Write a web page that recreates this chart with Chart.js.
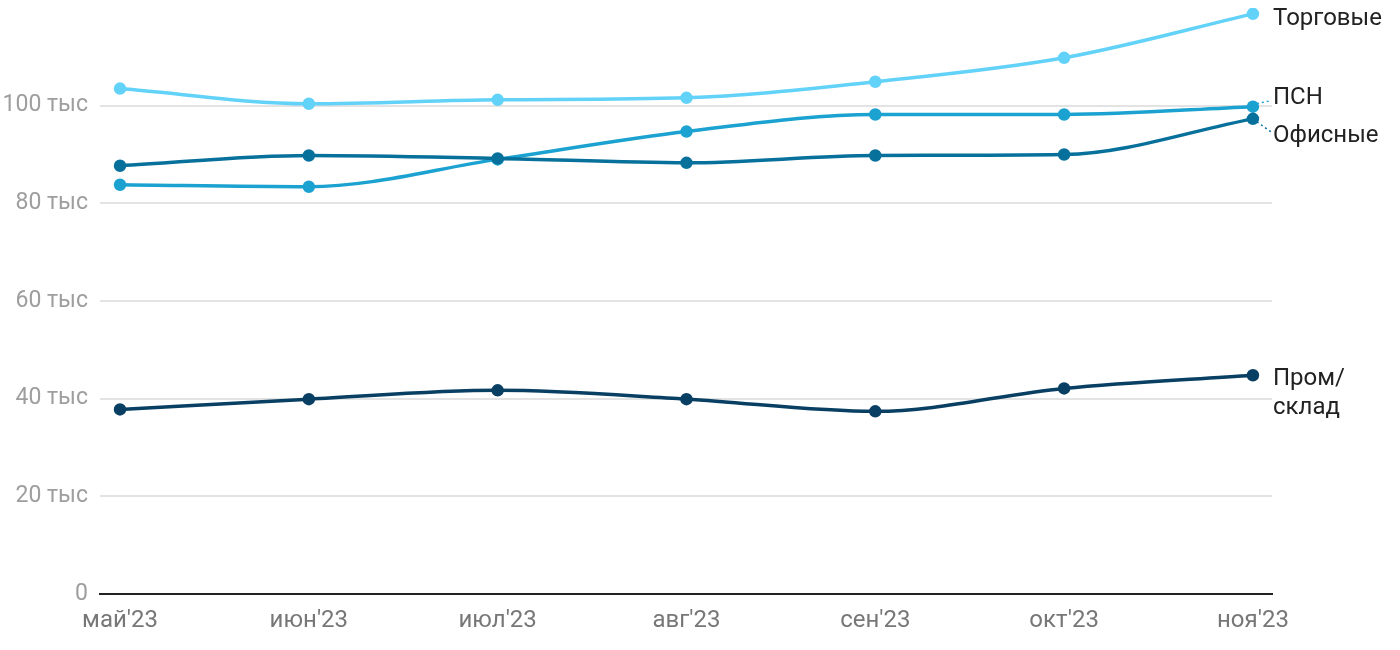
<!DOCTYPE html>
<html>
<head>
<meta charset="utf-8">
<script src="https://cdn.jsdelivr.net/npm/chart.js@4"></script>
<style>
  html, body { margin: 0; padding: 0; background: #fff; }
  #wrap { width: 1400px; height: 650px; }
</style>
</head>
<body>
<div id="wrap"><canvas id="graph1"></canvas></div>
<script>
const months = ["май'23", "июн'23", "июл'23", "авг'23", "сен'23", "окт'23", "ноя'23"];
const yTicks = [0, 20000, 40000, 60000, 80000, 100000];

const trade = [103500, 100400, 101200, 101600, 104900, 109800, 118800];
const psn = [83800, 83400, 89000, 94700, 98200, 98200, 99800];
const office = [87700, 89800, 89200, 88300, 89800, 90000, 97300];
const industrial = [37800, 39900, 41700, 39900, 37400, 42100, 44800];

const seriesNames = ['Торговые', 'ПСН', 'Офисные', ['Пром/', 'склад']];
const seriesColors = ['#62d2f8', '#1ba2d0', '#07709b', '#083f63'];
const seriesData = [trade, psn, office, industrial];
// label offset from last point, and whether a dotted leader is drawn
const labelShift = [5, -9, 17, 4];
const leader = [false, true, true, false];

function toPoints(arr) {
  return arr.map((v, i) => ({ x: i, y: v }));
}

const endLabels = {
  id: 'endLabels',
  afterDatasetsDraw(chart) {
    const ctx = chart.ctx;
    const area = chart.chartArea;
    ctx.save();
    ctx.font = '24px Roboto';
    ctx.fillStyle = '#222';
    ctx.textBaseline = 'middle';
    ctx.textAlign = 'left';
    chart.data.datasets.forEach((ds, i) => {
      const k = ds.seriesIndex;
      const meta = chart.getDatasetMeta(i);
      const pt = meta.data[meta.data.length - 1];
      const lx = area.right + 1;
      const ly = pt.y + labelShift[k];
      if (leader[k]) {
        ctx.strokeStyle = seriesColors[k];
        ctx.lineWidth = 1.5;
        ctx.setLineDash([2, 3]);
        ctx.beginPath();
        ctx.moveTo(pt.x + 4, pt.y + (labelShift[k] < 0 ? -3 : 3));
        ctx.lineTo(lx - 2, ly + (labelShift[k] < 0 ? 3 : -4));
        ctx.stroke();
        ctx.setLineDash([]);
      }
      const name = seriesNames[k];
      if (Array.isArray(name)) {
        name.forEach((line, n) => ctx.fillText(line, lx, ly + n * 29));
      } else {
        ctx.fillText(name, lx, ly);
      }
    });
    ctx.restore();
  }
};

document.addEventListener('DOMContentLoaded', function() {
  const ctx1 = document.getElementById('graph1').getContext('2d');
  const datasets = seriesData.map((arr, i) => ({
    label: Array.isArray(seriesNames[i]) ? seriesNames[i].join('') : seriesNames[i],
    seriesIndex: i,
    data: toPoints(arr),
    borderColor: seriesColors[i],
    backgroundColor: seriesColors[i],
    borderWidth: 3.5,
    pointRadius: 4.5,
    pointHoverRadius: 4.5,
    cubicInterpolationMode: 'monotone',
    fill: false
  })).reverse();

  new Chart(ctx1, {
    type: 'line',
    data: { datasets: datasets },
    options: {
      responsive: true,
      maintainAspectRatio: false,
      animation: false,
      layout: { padding: { top: 6, right: 128, left: 0, bottom: 0 } },
      plugins: {
        legend: { display: false },
        tooltip: { enabled: false }
      },
      scales: {
        x: {
          type: 'linear',
          min: -0.106,
          max: 6.101,
          afterBuildTicks(axis) {
            axis.ticks = months.map((m, i) => ({ value: i }));
          },
          afterFit(axis) { axis.height = 56; },
          ticks: {
            autoSkip: false,
            maxRotation: 0,
            padding: 13,
            color: '#777',
            font: { family: 'Roboto', size: 24 },
            callback: (v) => months[v]
          },
          grid: { display: false, drawTicks: false },
          border: { display: true, color: '#222', width: 2 }
        },
        y: {
          min: 0,
          max: 120000,
          afterBuildTicks(axis) {
            axis.ticks = yTicks.map(v => ({ value: v }));
          },
          afterFit(axis) {
            axis.width = 100;
            axis.paddingTop = 0;
            axis.paddingBottom = 0;
          },
          ticks: {
            padding: 12,
            color: '#9e9e9e',
            font: { family: 'Roboto', size: 23 },
            callback: (v) => v === 0 ? '0' : (v / 1000) + ' тыс'
          },
          grid: {
            color: (c) => c.tick && c.tick.value === 0 ? 'rgba(0,0,0,0)' : '#e3e3e3',
            lineWidth: 2,
            drawTicks: false
          },
          border: { display: false }
        }
      }
    },
    plugins: [endLabels]
  });
});
</script>
</body>
</html>
